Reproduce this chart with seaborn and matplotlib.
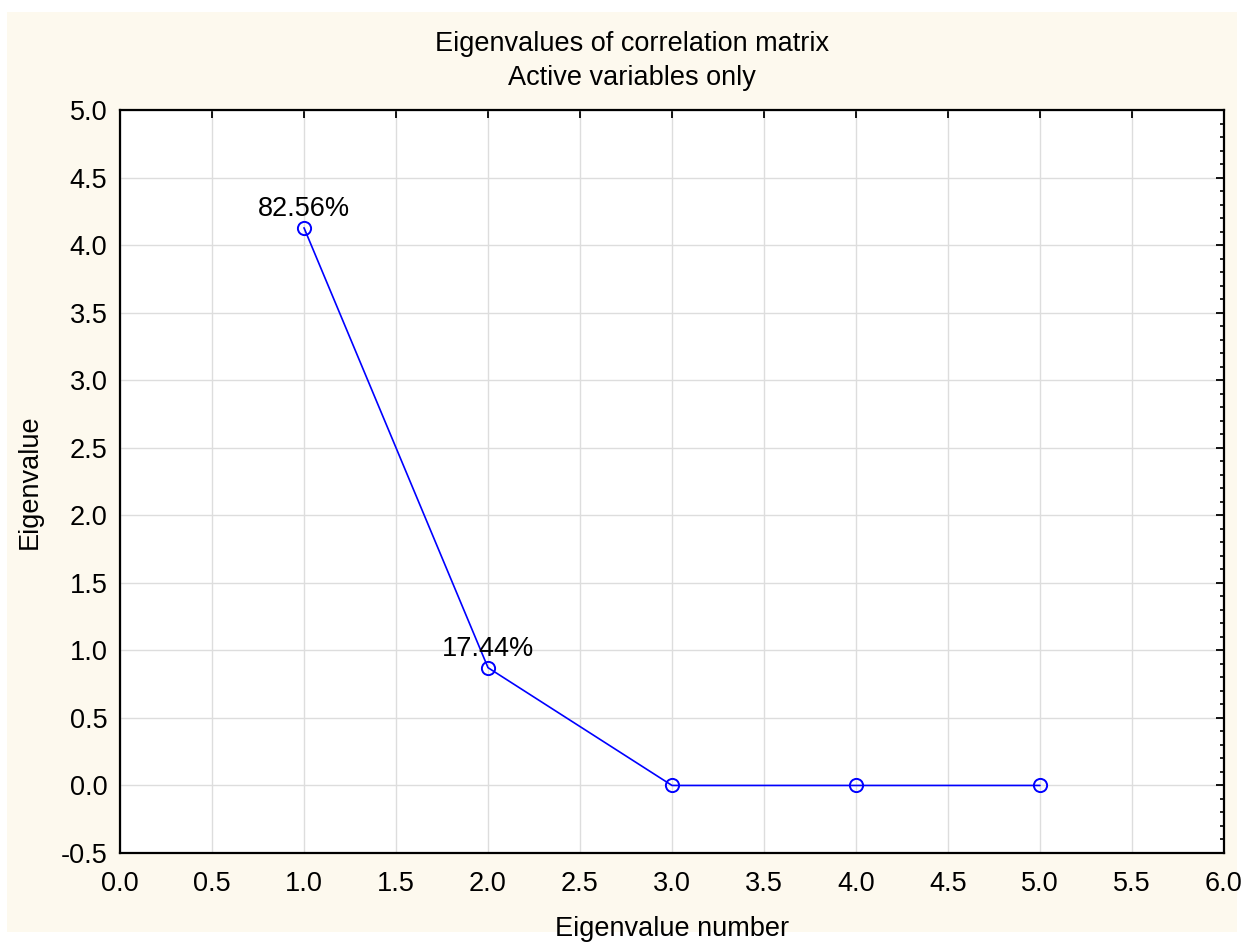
"""Scree plot: eigenvalues of the correlation matrix (active variables only)."""

import matplotlib.pyplot as plt
import numpy as np
import pandas as pd
import seaborn as sns
from matplotlib.patches import Rectangle
from matplotlib.ticker import MultipleLocator

eigen_number = [1, 2, 3, 4, 5]
eigenvalue = [4.128, 0.872, 0.0, 0.0, 0.0]
percent_labels = ["82.56%", "17.44%"]

BLUE = "#0000ff"
CREAM = "#fdf9ee"
FS = 19.5

sns.set_theme(style="white")
plt.rcParams["font.family"] = ["Liberation Sans", "DejaVu Sans"]
plt.rcParams["text.color"] = "black"
plt.rcParams["axes.labelcolor"] = "black"
plt.rcParams["xtick.labelcolor"] = "black"
plt.rcParams["ytick.labelcolor"] = "black"

df = pd.DataFrame({"number": eigen_number, "value": eigenvalue})

fig = plt.figure(figsize=(12.44, 9.44), dpi=100, facecolor="white")
fig.patches.append(Rectangle((7 / 1244, 12 / 944), 1230 / 1244, 920 / 944,
                             transform=fig.transFigure, facecolor=CREAM,
                             edgecolor="none", zorder=-10))
ax = fig.add_axes([120 / 1244, 1 - 853 / 944, 1104 / 1244, 743 / 944])
ax.set_facecolor("white")

sns.lineplot(data=df, x="number", y="value", ax=ax, color=BLUE, linewidth=1.2,
             marker="o", markersize=9.5, markerfacecolor="none",
             markeredgecolor=BLUE, markeredgewidth=1.4)

for x, y, txt in zip(eigen_number, eigenvalue, percent_labels):
    ax.annotate(txt, (x, y), xytext=(0, 4), textcoords="offset points",
                ha="center", va="bottom", fontsize=FS, color="black")

ax.set_xlim(0, 6)
ax.set_ylim(-0.5, 5)
ax.xaxis.set_major_locator(MultipleLocator(0.5))
ax.yaxis.set_major_locator(MultipleLocator(0.5))
ax.yaxis.set_minor_locator(MultipleLocator(0.1))
ax.xaxis.set_major_formatter(plt.FormatStrFormatter("%.1f"))
ax.yaxis.set_major_formatter(plt.FormatStrFormatter("%.1f"))
ax.grid(True, which="major", color="#dddddd", linewidth=1)
ax.tick_params(axis="both", which="both", direction="in", top=True, right=True,
               color="black", labelsize=FS)
ax.tick_params(which="major", length=6, width=1.3)
ax.tick_params(axis="x", which="major", pad=13)
ax.tick_params(axis="y", which="major", pad=9)
ax.tick_params(which="minor", length=3, width=1.2)
ax.tick_params(axis="x", which="minor", top=False, bottom=False)
for side in ax.spines.values():
    side.set_color("black")
    side.set_linewidth(1.6)

ax.set_xlabel("Eigenvalue number", fontsize=FS, labelpad=14)
ax.set_ylabel("Eigenvalue", fontsize=FS, labelpad=13)

fig.text(632 / 1244, 1 - 44 / 944, "Eigenvalues of correlation matrix",
         ha="center", va="center", fontsize=FS)
fig.text(632 / 1244, 1 - 78 / 944, "Active variables only",
         ha="center", va="center", fontsize=FS)

fig.savefig("out.png", dpi=100, facecolor=fig.get_facecolor())
